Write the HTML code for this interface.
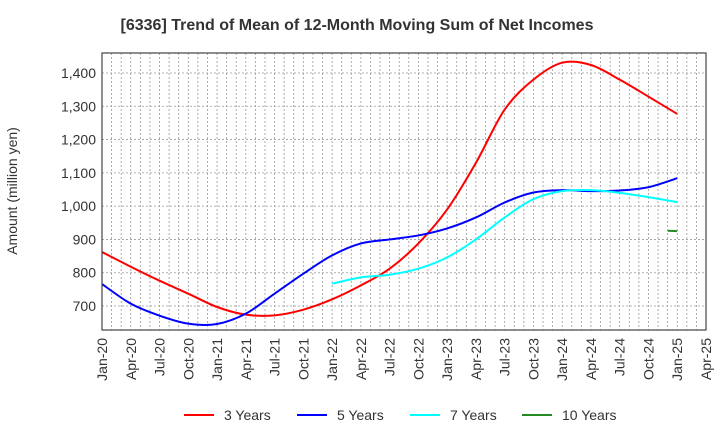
<!DOCTYPE html>
<html><head><meta charset="utf-8"><style>
body{margin:0;background:#fff;}
svg{display:block;font-family:"Liberation Sans",Arial,sans-serif;}
</style></head><body>
<svg id="chart" width="720" height="440" xmlns="http://www.w3.org/2000/svg">
<rect width="720" height="440" fill="#fff"/>
<text x="357" y="30" text-anchor="middle" font-size="16" font-weight="bold" fill="#333">[6336]  Trend of Mean of 12-Month Moving Sum of Net Incomes</text>
<text transform="translate(17,191) rotate(-90)" text-anchor="middle" font-size="14" fill="#333">Amount (million yen)</text>
<g id="grid"></g><g id="series"></g><g id="axes"></g>
<g>
<g><line x1="184" x2="214" y1="415" y2="415" stroke="#f00" stroke-width="2"/><text x="224" y="420" font-size="14" fill="#333">3 Years</text></g>
<g><line x1="297" x2="327" y1="415" y2="415" stroke="#00f" stroke-width="2"/><text x="337" y="420" font-size="14" fill="#333">5 Years</text></g>
<g><line x1="410" x2="440" y1="415" y2="415" stroke="#0ff" stroke-width="2"/><text x="450" y="420" font-size="14" fill="#333">7 Years</text></g>
<g><line x1="522" x2="552" y1="415" y2="415" stroke="#228b22" stroke-width="2"/><text x="562" y="420" font-size="14" fill="#333">10 Years</text></g>
</g>
</svg>
<script>
const xTickLabels=["Jan-20","Apr-20","Jul-20","Oct-20","Jan-21","Apr-21","Jul-21","Oct-21","Jan-22","Apr-22","Jul-22","Oct-22","Jan-23","Apr-23","Jul-23","Oct-23","Jan-24","Apr-24","Jul-24","Oct-24","Jan-25","Apr-25"];
const yTicks=[700,800,900,1000,1100,1200,1300,1400];
const s3=[862,818,776,737,697,674,672,689,720,762,812,888,990,1130,1290,1380,1431,1424,1380,1329,1277];
const s5=[766,707,671,647,646,677,737,797,852,888,900,912,933,966,1011,1041,1048,1045,1047,1057,1084];
const s7Start=8;
const s7=[767,786,794,812,846,900,966,1021,1045,1048,1040,1027,1012];
const s10Months=[59,60];
const s10=[926,925];
const X0=102,X1=706,Y0=53,Y1=330;
const NS="http://www.w3.org/2000/svg";
function xm(m){return X0+(X1-X0)*m/63;}
function yv(v){return 306+(700-v)*(306-73)/700;}
function el(t,a,p){const e=document.createElementNS(NS,t);for(const k in a)e.setAttribute(k,a[k]);p.appendChild(e);return e;}
const grid=document.getElementById('grid'),axes=document.getElementById('axes'),ser=document.getElementById('series');
for(let m=1;m<63;m++){const l=el('line',{x1:xm(m),x2:xm(m),y1:Y0,y2:Y1,stroke:'#999','stroke-width':0.8,'stroke-dasharray':'2,2'},grid);

}
yTicks.forEach(v=>{const l=el('line',{x1:X0,x2:X1,y1:yv(v),y2:yv(v),stroke:'#999','stroke-width':0.8,'stroke-dasharray':'2,2'},grid);


const t=el('text',{x:X0-6,y:yv(v)+5,'text-anchor':'end','font-size':14,fill:'#333'},axes);
t.textContent=v.toLocaleString('en-US');

});
xTickLabels.forEach((s,i)=>{const x=xm(i*3);
const t=el('text',{transform:`translate(${x+5},338) rotate(-90)`,'text-anchor':'end','font-size':14,fill:'#333'},axes);
t.textContent=s;

});
const fr=el('rect',{x:X0,y:Y0,width:X1-X0,height:Y1-Y0,fill:'none',stroke:'#444','stroke-width':1.2},axes);


function path(pts){if(pts.length<3)return 'M'+pts.map(p=>p.join(',')).join(' L');
let d='M'+pts[0].join(',');for(let i=0;i<pts.length-1;i++){const p0=pts[i-1]||pts[i],p1=pts[i],p2=pts[i+1],p3=pts[i+2]||p2;
d+=` C${p1[0]+(p2[0]-p0[0])/6},${p1[1]+(p2[1]-p0[1])/6} ${p2[0]-(p3[0]-p1[0])/6},${p2[1]-(p3[1]-p1[1])/6} ${p2[0]},${p2[1]}`;}return d;}
function draw(vals,months,color,name){const pts=vals.map((v,i)=>[xm(months[i]),yv(v)]);
const p=el('path',{d:path(pts),fill:'none',stroke:color,'stroke-width':2},ser);

}
draw(s3,s3.map((_,i)=>i*3),'#f00','series-3-years');
draw(s5,s5.map((_,i)=>i*3),'#00f','series-5-years');
draw(s7,s7.map((_,i)=>(s7Start+i)*3),'#0ff','series-7-years');
draw(s10,s10Months,'#228b22','series-10-years');
</script>
</body></html>
